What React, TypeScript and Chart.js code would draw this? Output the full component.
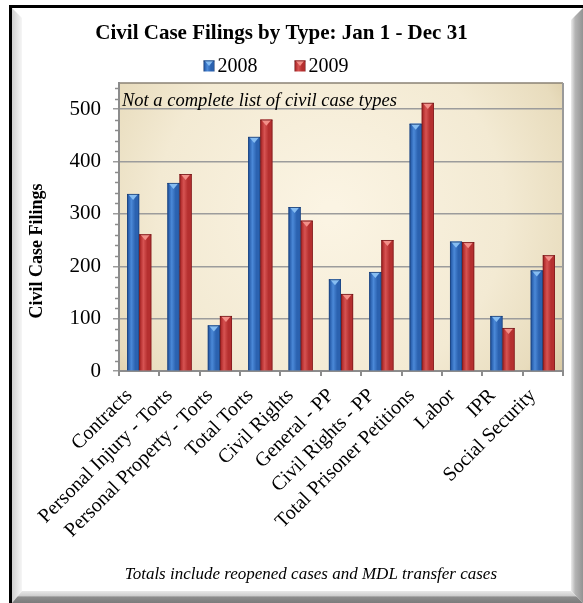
import { useEffect, useRef } from 'react';
import { Chart, registerables } from 'chart.js';

Chart.register(...registerables);

const SERIF = '"Liberation Serif", "Times New Roman", serif';

const categories = [
  'Contracts',
  'Personal Injury - Torts',
  'Personal Property - Torts',
  'Total Torts',
  'Civil Rights',
  'General - PP',
  'Civil Rights - PP',
  'Total Prisoner Petitions',
  'Labor',
  'IPR',
  'Social Security',
];
const filings2008 = [338, 359, 87, 447, 313, 175, 189, 472, 247, 105, 192];
const filings2009 = [261, 376, 105, 480, 287, 147, 250, 512, 246, 82, 221];

const seriesLabels = ['2008', '2009'];
const yMax = 550;
const yMajorStep = 100;
const yMinorStep = 20;

const titleText = 'Civil Case Filings by Type: Jan 1 - Dec 31';
const yTitleText = 'Civil Case Filings';
const plotNote = 'Not a complete list of civil case types';
const footNote = 'Totals include reopened cases and MDL transfer cases';

// Shading palettes for the bevelled bars: edge, body, highlight, top facet
const palettes = [
  { edge: '#15386e', body: '#2b62b0', light: '#4b89d8', facet: '#86bdf2', base: '#2f66b4' },
  { edge: '#6c1315', body: '#b52f2f', light: '#d65352', facet: '#f39089', base: '#bd3535' },
];

function drawBevelBar(ctx: CanvasRenderingContext2D, left: number, top: number, w: number, bottom: number, p: typeof palettes[0]) {
  const g = ctx.createLinearGradient(left, 0, left + w, 0);
  g.addColorStop(0, p.edge);
  g.addColorStop(0.12, p.body);
  g.addColorStop(0.35, p.light);
  g.addColorStop(0.68, p.body);
  g.addColorStop(0.9, p.body);
  g.addColorStop(1, p.edge);
  ctx.fillStyle = g;
  ctx.fillRect(left, top, w, bottom - top);
  // triangular top facet
  const fh = Math.min(6, (bottom - top) / 2);
  ctx.beginPath();
  ctx.moveTo(left + 1, top);
  ctx.lineTo(left + w - 1, top);
  ctx.lineTo(left + w / 2, top + fh);
  ctx.closePath();
  ctx.fillStyle = p.facet;
  ctx.fill();
  ctx.strokeStyle = p.edge;
  ctx.lineWidth = 0.8;
  ctx.beginPath();
  ctx.moveTo(left, top + 0.4);
  ctx.lineTo(left + w, top + 0.4);
  ctx.stroke();
}

const framePlugin = {
  id: 'frameAndPlot',
  beforeDraw(chart: any) {
    const { ctx, width: W, height: H, chartArea: a } = chart;
    ctx.save();
    ctx.fillStyle = '#ffffff';
    ctx.fillRect(0, 0, W, H);

    // left bevel
    let g = ctx.createLinearGradient(12, 0, 22, 0);
    g.addColorStop(0, '#cfcfcf');
    g.addColorStop(1, '#f6f6f6');
    ctx.fillStyle = g;
    ctx.beginPath();
    ctx.moveTo(12, 8);
    ctx.lineTo(22, 18);
    ctx.lineTo(22, 591);
    ctx.lineTo(12, 603);
    ctx.closePath();
    ctx.fill();

    // right bevel
    g = ctx.createLinearGradient(571, 0, 583, 0);
    g.addColorStop(0, '#ececec');
    g.addColorStop(0.35, '#b4b4b4');
    g.addColorStop(1, '#939393');
    ctx.fillStyle = g;
    ctx.beginPath();
    ctx.moveTo(571, 20);
    ctx.lineTo(583, 8);
    ctx.lineTo(583, 603);
    ctx.lineTo(571, 591);
    ctx.closePath();
    ctx.fill();

    // bottom bevel
    g = ctx.createLinearGradient(0, 591, 0, 603);
    g.addColorStop(0, '#e8e8e8');
    g.addColorStop(0.4, '#cdcdcd');
    g.addColorStop(0.5, '#8c8c8c');
    g.addColorStop(1, '#7c7c7c');
    ctx.fillStyle = g;
    ctx.beginPath();
    ctx.moveTo(22, 591);
    ctx.lineTo(571, 591);
    ctx.lineTo(583, 603);
    ctx.lineTo(12, 603);
    ctx.closePath();
    ctx.fill();

    // black outline
    ctx.fillStyle = '#000';
    ctx.fillRect(9, 5, W - 9, 3);
    ctx.fillRect(9, 5, 3, H - 5);

    // plot area background
    const cx = (a.left + a.right) / 2;
    const w = a.right - a.left;
    const h = a.bottom - a.top;
    const rg = ctx.createRadialGradient(cx - 10, a.top + h * 0.45, 10, cx - 10, a.top + h * 0.45, w * 0.64);
    rg.addColorStop(0, '#fbf4e3');
    rg.addColorStop(0.6, '#f3ead3');
    rg.addColorStop(0.87, '#e8dcbd');
    rg.addColorStop(1, '#d8c8a0');
    ctx.fillStyle = rg;
    ctx.fillRect(a.left, a.top, w, h);

    // plot border (top and right)
    ctx.strokeStyle = '#8a8274';
    ctx.lineWidth = 1.5;
    ctx.beginPath();
    ctx.moveTo(a.left, a.top);
    ctx.lineTo(a.right, a.top);
    ctx.stroke();
    ctx.strokeStyle = '#9a9a9a';
    ctx.lineWidth = 2;
    ctx.beginPath();
    ctx.moveTo(a.right, a.top);
    ctx.lineTo(a.right, a.bottom);
    ctx.stroke();
    ctx.restore();
  },
  afterDatasetsDraw(chart: any) {
    const ctx = chart.ctx;
    ctx.save();
    chart.data.datasets.forEach((_: any, di: number) => {
      const meta = chart.getDatasetMeta(di);
      meta.data.forEach((el: any) => {
        const { x, y, base, width } = el.getProps(['x', 'y', 'base', 'width'], true);
        drawBevelBar(ctx, x - width / 2, y, width, base, palettes[di]);
      });
    });
    ctx.restore();
  },
  afterDraw(chart: any) {
    const { ctx, chartArea: a, scales } = chart;
    const ys = scales.y;
    ctx.save();

    // minor tick marks on the value axis
    ctx.strokeStyle = '#8c8c8c';
    ctx.lineWidth = 1.5;
    for (let v = 0; v <= yMax; v += yMinorStep) {
      if (v % yMajorStep === 0) continue;
      const py = Math.round(ys.getPixelForValue(v)) + 0.5;
      ctx.beginPath();
      ctx.moveTo(a.left - 4, py);
      ctx.lineTo(a.left, py);
      ctx.stroke();
    }

    // value axis title
    ctx.fillStyle = '#000';
    ctx.font = `bold 18px ${SERIF}`;
    ctx.textAlign = 'center';
    ctx.textBaseline = 'middle';
    ctx.translate(37, 251);
    ctx.rotate(-Math.PI / 2);
    ctx.fillText(yTitleText, 0, 0);
    ctx.setTransform(1, 0, 0, 1, 0, 0);

    // notes
    ctx.font = `italic 18.5px ${SERIF}`;
    ctx.textAlign = 'left';
    ctx.fillText(plotNote, a.left + 3, a.top + 18);
    ctx.font = `italic 17px ${SERIF}`;
    ctx.textAlign = 'right';
    ctx.fillText(footNote, 497, 575);

    // legend
    ctx.font = `20px ${SERIF}`;
    ctx.textAlign = 'left';
    const box = 11;
    const gapText = 3;
    const gapItems = 37;
    const widths = seriesLabels.map((s) => box + gapText + ctx.measureText(s).width);
    const total = widths.reduce((s, v) => s + v, 0) + gapItems * (widths.length - 1);
    let lx = 276 - total / 2;
    const ly = 66;
    seriesLabels.forEach((s, i) => {
      drawBevelBar(ctx, lx, ly - box / 2, box, ly + box / 2, palettes[i]);
      ctx.fillStyle = '#000';
      ctx.fillText(s, lx + box + gapText, ly + 1);
      lx += widths[i] + gapItems;
    });
    ctx.restore();
  },
};

export default function App() {
  const canvasRef = useRef<HTMLCanvasElement | null>(null);

  useEffect(() => {
    const canvas = canvasRef.current;
    if (!canvas) return;
    const chart = new Chart(canvas, {
      type: 'bar',
      data: {
        labels: categories,
        datasets: [
          { label: seriesLabels[0], data: filings2008, backgroundColor: palettes[0].base },
          { label: seriesLabels[1], data: filings2009, backgroundColor: palettes[1].base },
        ],
      },
      options: {
        responsive: false,
        maintainAspectRatio: false,
        animation: false,
        layout: { padding: { top: 0, left: 0, right: 20, bottom: 0 } },
        datasets: { bar: { categoryPercentage: 0.6, barPercentage: 1 } },
        plugins: {
          legend: { display: false },
          tooltip: { enabled: false },
          title: {
            display: true,
            text: titleText,
            color: '#000',
            font: { family: SERIF, size: 21, weight: 'bold' },
            padding: { top: 21, bottom: 36.8 },
          },
        },
        scales: {
          x: {
            type: 'category',
            afterFit: (s: any) => {
              s.height = 232;
            },
            grid: {
              offset: true,
              drawOnChartArea: false,
              drawTicks: true,
              tickLength: 5,
              color: '#8c8c8c',
              lineWidth: 2,
            },
            border: { color: '#8c8c8c', width: 2 },
            ticks: {
              color: '#000',
              font: { family: SERIF, size: 20 },
              minRotation: 45,
              maxRotation: 45,
              autoSkip: false,
              padding: 8,
              labelOffset: -10,
            },
          },
          y: {
            min: 0,
            max: yMax,
            afterFit: (s: any) => {
              s.width = 119;
            },
            afterBuildTicks: (s: any) => {
              s.ticks = s.ticks.filter((t: any) => t.value % yMajorStep === 0);
            },
            grid: { color: '#9c9c9c', lineWidth: 1.5, tickLength: 6 },
            border: { color: '#8c8c8c', width: 2 },
            ticks: {
              stepSize: yMajorStep,
              color: '#000',
              font: { family: SERIF, size: 21 },
              padding: 12,
            },
          },
        },
      },
      plugins: [framePlugin],
    });
    return () => chart.destroy();
  }, []);

  return (
    <div style={{ position: 'absolute', left: 0, top: 0, width: 583, height: 603 }}>
      <canvas ref={canvasRef} width={583} height={603} style={{ display: 'block' }} />
    </div>
  );
}
